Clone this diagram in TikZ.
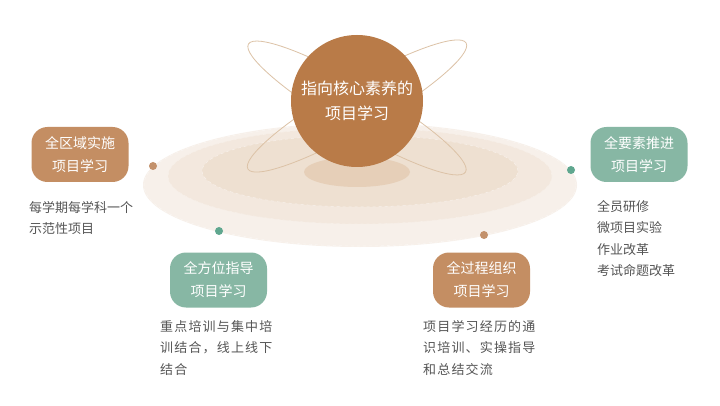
\documentclass[tikz,border=0pt]{standalone}
\usepackage{fontspec}
\setmainfont{Noto Sans CJK SC}
\newfontfamily\spacedfont[LetterSpace=9]{Noto Sans CJK SC}
\definecolor{brownmain}{HTML}{B97B48}
\definecolor{brownbox}{HTML}{C48E63}
\definecolor{greenbox}{HTML}{87B7A4}
\definecolor{browndot}{HTML}{C3916B}
\definecolor{greendot}{HTML}{5FA78F}
\definecolor{disc1}{HTML}{F7F0EA}
\definecolor{disc2}{HTML}{F3E8DE}
\definecolor{disc3}{HTML}{EEE0D1}
\definecolor{discshadow}{HTML}{E6CFB8}
\definecolor{orbit}{HTML}{DCC2A6}
\definecolor{desc}{HTML}{555555}
\tikzset{
  boxbase/.style={rounded corners=16pt, minimum width=97pt, minimum height=55pt, inner sep=0pt,
    text=white, align=center, font=\fontsize{14}{23}\selectfont},
  brownbox/.style={boxbase, fill=brownbox},
  greenbox/.style={boxbase, fill=greenbox},
  dotb/.style={circle, fill=browndot, minimum size=8pt, inner sep=0pt},
  dotg/.style={circle, fill=greendot, minimum size=8pt, inner sep=0pt},
  desctext/.style={anchor=north west, inner sep=0pt, align=left, text=desc, font=\fontsize{13}{21.5}\selectfont},
  desctextsp/.style={anchor=north west, inner sep=0pt, align=left, text=desc, font=\spacedfont\fontsize{13}{21.5}\selectfont},
}
\begin{document}
\begin{tikzpicture}[x=1pt,y=-1pt]
\useasboundingbox (0,0) rectangle (720,406);
\fill[white] (0,0) rectangle (720,406);
% discs
\fill[disc1] (360,185) ellipse [x radius=217pt, y radius=62pt];
\draw[white!60!disc2, dashed, line width=0.6pt] (360,185) ellipse [x radius=216pt, y radius=61pt];
\fill[disc2] (360,176) ellipse [x radius=192pt, y radius=48pt];
\draw[disc3!80!brown!30!white, dashed, line width=0.6pt] (360,176) ellipse [x radius=192pt, y radius=48pt];
\fill[disc3] (360,171) ellipse [x radius=158pt, y radius=36pt];
\draw[disc2!70!brown!25!white, dashed, line width=0.5pt] (360,171) ellipse [x radius=158pt, y radius=36pt];
\fill[discshadow] (357,172) ellipse [x radius=53pt, y radius=15pt];
% orbits
\draw[orbit, line width=0.8pt, rotate around={-30.5:(357,108)}] (357,108) ellipse [x radius=126pt, y radius=23pt];
\draw[orbit, line width=0.8pt, rotate around={30:(357,106)}] (357,106) ellipse [x radius=126pt, y radius=23pt];
% main circle
\node[circle, fill=brownmain, minimum size=132pt, inner sep=0pt, text=white, align=center,
  font=\fontsize{16}{25}\selectfont] (main) at (357,101) {指向核心素养的\\项目学习};
% boxes
\node[brownbox] (b1) at (80,154.5) {全区域实施\\项目学习};
\node[greenbox] (b2) at (639,154.5) {全要素推进\\项目学习};
\node[greenbox] (b3) at (218.5,280) {全方位指导\\项目学习};
\node[brownbox] (b4) at (481.5,280) {全过程组织\\项目学习};
% dots
\node[dotb] (d1) at (153,166) {};
\node[dotg] (d2) at (571,170) {};
\node[dotg] (d3) at (219,231) {};
\node[dotb] (d4) at (484,235) {};
% descriptions
\node[desctext] (t1) at (29,201) {每学期每学科一个\\示范性项目};
\node[desctext] (t2) at (597,200) {全员研修\\微项目实验\\作业改革\\考试命题改革};
\node[desctextsp] (t3) at (160,320) {重点培训与集中培\\训结合，线上线下\\结合};
\node[desctextsp] (t4) at (423,320) {项目学习经历的通\\识培训、实操指导\\和总结交流};
\end{tikzpicture}
\end{document}
